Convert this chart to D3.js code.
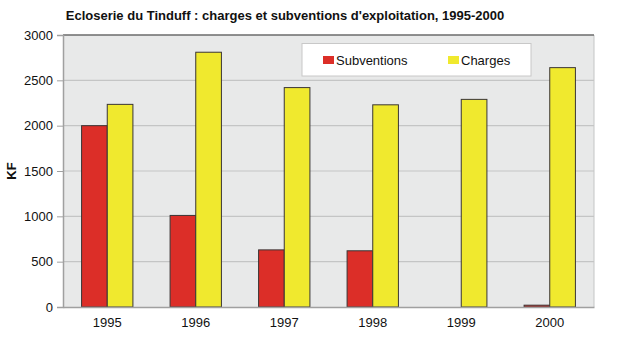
<!DOCTYPE html>
<html>
<head>
<meta charset="utf-8">
<script src="https://cdn.jsdelivr.net/npm/d3@7"></script>
<style>
  html, body { margin: 0; padding: 0; background: #ffffff; }
  svg { display: block; font-family: "Liberation Sans", Arial, sans-serif; }
</style>
</head>
<body>
<svg id="chart" width="617" height="339"></svg>
<script>
// Ecloserie du Tinduff — operating charges and subsidies (KF)
const years = ["1995", "1996", "1997", "1998", "1999", "2000"];
const subventions = [2000, 1010, 630, 620, 0, 20];
const charges = [2235, 2810, 2420, 2230, 2290, 2640];
const seriesNames = ["Subventions", "Charges"];
const seriesColors = ["#dc2e28", "#f0e92e"];
const yTicks = [0, 500, 1000, 1500, 2000, 2500, 3000];

const svg = d3.select("#chart");
const plot = { left: 63, right: 594, top: 35, bottom: 307 };

const x0 = d3.scaleBand()
  .domain(years)
  .range([plot.left, plot.right])
  .paddingInner(0.42)
  .paddingOuter(0.21);

const x1 = d3.scaleBand()
  .domain(seriesNames)
  .range([0, x0.bandwidth()])
  .padding(0);

const y = d3.scaleLinear().domain([0, 3000]).range([plot.bottom, plot.top]);

// plot background
svg.append("rect")
  .attr("x", plot.left).attr("y", plot.top)
  .attr("width", plot.right - plot.left).attr("height", plot.bottom - plot.top)
  .attr("fill", "#e8e9e9");

// horizontal gridlines
svg.append("g")
  .selectAll("line")
  .data(yTicks.filter(d => d > 0 && d < 3000))
  .join("line")
  .attr("x1", plot.left).attr("x2", plot.right)
  .attr("y1", d => y(d)).attr("y2", d => y(d))
  .attr("stroke", "#c4c5c5").attr("stroke-width", 1.2);

// right border and top border
svg.append("line")
  .attr("x1", plot.right).attr("x2", plot.right)
  .attr("y1", plot.top).attr("y2", plot.bottom)
  .attr("stroke", "#c4c5c5").attr("stroke-width", 1);
svg.append("line")
  .attr("x1", plot.left).attr("x2", plot.right)
  .attr("y1", plot.top).attr("y2", plot.top)
  .attr("stroke", "#6b6b6b").attr("stroke-width", 1.5);

// bars
const rows = years.map((yr, i) => ({ year: yr, values: [subventions[i], charges[i]] }));
const groups = svg.append("g")
  .selectAll("g")
  .data(rows)
  .join("g")
  .attr("transform", d => `translate(${x0(d.year)},0)`);

groups.selectAll("rect")
  .data(d => d.values.map((v, j) => ({ name: seriesNames[j], value: v, color: seriesColors[j] })))
  .join("rect")
  .filter(d => d.value > 0)
  .attr("x", d => x1(d.name))
  .attr("y", d => y(d.value))
  .attr("width", x1.bandwidth())
  .attr("height", d => y(0) - y(d.value))
  .attr("fill", d => d.color)
  .attr("stroke", "#3a3535")
  .attr("stroke-width", 1);

// y axis
const yAxis = svg.append("g")
  .attr("transform", `translate(${plot.left},0)`)
  .call(d3.axisLeft(y).tickValues(yTicks).tickSize(6).tickPadding(4).tickFormat(d3.format("d")));
yAxis.select(".domain").attr("stroke", "#a0a0a0").attr("stroke-width", 1.5);
yAxis.selectAll(".tick line").attr("stroke", "#a0a0a0");
yAxis.selectAll("text").attr("font-size", 13).attr("fill", "#111")
  .attr("font-family", "Liberation Sans, Arial, sans-serif");

// x axis
const xAxis = svg.append("g")
  .attr("transform", `translate(0,${plot.bottom})`)
  .call(d3.axisBottom(x0).tickSize(0).tickPadding(11));
xAxis.select(".domain").attr("stroke", "#a0a0a0").attr("stroke-width", 1.5);
xAxis.selectAll("text").attr("font-size", 13).attr("fill", "#111")
  .attr("font-family", "Liberation Sans, Arial, sans-serif");

// y axis title
svg.append("text")
  .attr("transform", `translate(16,${(plot.top + plot.bottom) / 2}) rotate(-90)`)
  .attr("text-anchor", "middle")
  .attr("font-size", 13).attr("font-weight", "bold").attr("fill", "#111")
  .text("KF");

// chart title
svg.append("text")
  .attr("x", 285).attr("y", 20)
  .attr("text-anchor", "middle")
  .attr("font-size", 13).attr("font-weight", "bold").attr("fill", "#111")
  .text("Ecloserie du Tinduff : charges et subventions d'exploitation, 1995-2000");

// legend
const legend = svg.append("g");
legend.append("rect")
  .attr("x", 302).attr("y", 43.5).attr("width", 229).attr("height", 32.5)
  .attr("fill", "#ffffff").attr("stroke", "#c8c8c8").attr("stroke-width", 1);
const legendX = [323, 448];
seriesNames.forEach((name, j) => {
  legend.append("rect")
    .attr("x", legendX[j]).attr("y", 56).attr("width", 11).attr("height", 8)
    .attr("fill", seriesColors[j]);
  legend.append("text")
    .attr("x", legendX[j] + 13).attr("y", 64.5)
    .attr("font-size", 13).attr("fill", "#111")
    .text(name);
});
</script>
</body>
</html>
